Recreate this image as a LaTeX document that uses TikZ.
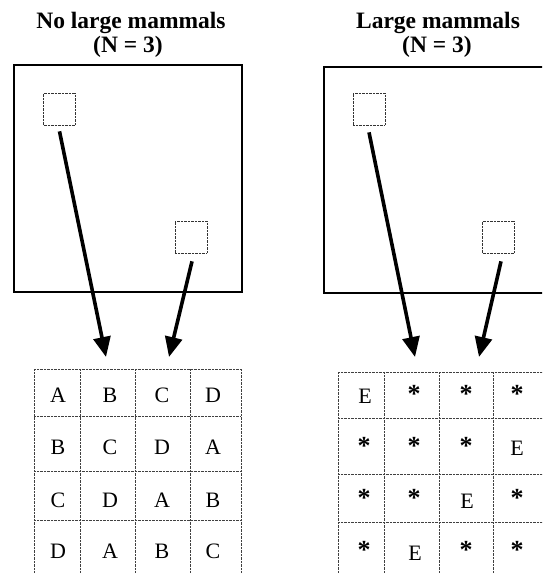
\documentclass[tikz,border=0pt]{standalone}
\usepackage{fontspec}
\setmainfont{Liberation Serif}
\usetikzlibrary{arrows.meta}
\tikzset{
  titletext/.style={font=\fontsize{23.5}{26}\selectfont\bfseries, anchor=base, inner sep=0pt},
  celltext/.style={font=\fontsize{22}{24}\selectfont, anchor=base, inner sep=0pt},
  startext/.style={font=\fontsize{26}{28}\selectfont\bfseries, anchor=center, inner sep=0pt},
  plotbox/.style={draw=black, line width=1.1pt},
  sample/.style={draw=black!80, line width=0.7pt, dash pattern=on 0.7pt off 0.7pt, minimum width=32pt, minimum height=32pt, inner sep=0pt},
  gridline/.style={draw=black!75, line width=0.7pt, dash pattern=on 0.7pt off 0.7pt},
  arr/.style={line width=3.6pt, -{Triangle[length=20pt,width=17pt]}}
}
\begin{document}
\begin{tikzpicture}[x=1pt,y=-1pt]
\useasboundingbox (0,0) rectangle (542,573);
\clip (0,0) rectangle (542,573);
% titles
\node[titletext] (t1a) at (131,28) {No large mammals};
\node[titletext] (t1b) at (128,52) {(N = 3)};
\node[titletext] (t2a) at (438,28) {Large mammals};
\node[titletext] (t2b) at (437,52) {(N = 3)};
% plots
\draw[plotbox] (14,65) rectangle (242,292);
\draw[plotbox] (324,67) rectangle (570,293);
% sample squares
\node[sample] (s1) at (59.5,109) {};
\node[sample] (s2) at (191,237) {};
\node[sample] (s3) at (369,109) {};
\node[sample] (s4) at (498.5,237) {};
% arrow tips
\coordinate (p1) at (106,357);
\coordinate (p2) at (169,357);
\coordinate (p3) at (415,357);
\coordinate (p4) at (479,357);
\draw[arr] ([yshift=-6pt]s1.south) -- (p1);
\draw[arr] ([xshift=1pt,yshift=-8pt]s2.south) -- (p2);
\draw[arr] ([yshift=-7pt]s3.south) -- (p3);
\draw[arr] ([xshift=2.5pt,yshift=-8pt]s4.south) -- (p4);
% left grid
\foreach \x in {34,80,135,190,241} \draw[gridline] (\x,369) -- (\x,580);
\foreach \y in {369,416,471,520} \draw[gridline] (34,\y) -- (241,\y);
% right grid
\foreach \x in {338,384,439,493,546} \draw[gridline] (\x,372) -- (\x,580);
\foreach \y in {372,418,474,522} \draw[gridline] (338,\y) -- (560,\y);
% left letters
\foreach \r/\yy/\a/\b/\c/\d in {1/402/A/B/C/D, 2/454/B/C/D/A, 3/507/C/D/A/B, 4/558/D/A/B/C}{
  \node[celltext] (L\r a) at (58,\yy) {\a};
  \node[celltext] (L\r b) at (110,\yy) {\b};
  \node[celltext] (L\r c) at (162,\yy) {\c};
  \node[celltext] (L\r d) at (213,\yy) {\d};
}
% right letters
\node[celltext] (R1a) at (365,403) {E};
\node[startext] (R1b) at (414,394) {*};
\node[startext] (R1c) at (466,394) {*};
\node[startext] (R1d) at (517,394) {*};
\node[startext] (R2a) at (364,446) {*};
\node[startext] (R2b) at (414,446) {*};
\node[startext] (R2c) at (466,446) {*};
\node[celltext] (R2d) at (517,455) {E};
\node[startext] (R3a) at (364,498) {*};
\node[startext] (R3b) at (414,498) {*};
\node[celltext] (R3c) at (467,508) {E};
\node[startext] (R3d) at (517,498) {*};
\node[startext] (R4a) at (364,550) {*};
\node[celltext] (R4b) at (415,560) {E};
\node[startext] (R4c) at (466,550) {*};
\node[startext] (R4d) at (517,550) {*};
\end{tikzpicture}
\end{document}
